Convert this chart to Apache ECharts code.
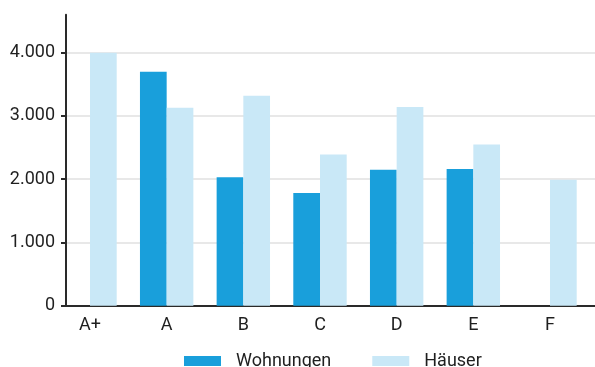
<!DOCTYPE html>
<html>
<head>
<meta charset="utf-8">
<script src="https://cdn.jsdelivr.net/npm/echarts@6/dist/echarts.min.js"></script>
<style>
  html, body { margin: 0; padding: 0; background: #fff; }
  #chart { width: 595px; height: 367px; }
</style>
</head>
<body>
<div id="chart"></div>
<script>
// Energieeffizienzklassen
const categories = ['A+', 'A', 'B', 'C', 'D', 'E', 'F'];
// Werte je Klasse
const wohnungen = [null, 3700, 2030, 1780, 2150, 2160, null];
const haeuser = [4000, 3130, 3320, 2390, 3140, 2550, 1990];
// Achsenbeschriftung
const yTicks = [0, 1000, 2000, 3000, 4000];

const FONT = 'Roboto';
const TEXT = '#1f1f1f';
const AXIS = '#2a2a2a';

function fmt(v) {
  return String(v).replace(/\B(?=(\d{3})+(?!\d))/g, '.');
}

const chart = echarts.init(document.getElementById('chart'), null, { renderer: 'canvas' });

const yBase = { type: 'value', min: 0, max: 4600, interval: 1000 };

chart.setOption({
  animation: false,
  textStyle: { fontFamily: FONT },
  grid: [
    // frame: y axis, gridlines, baseline
    { left: 66, right: 0, top: 14.75, bottom: 61.3 },
    // bars and category labels
    { left: 51.67, right: 6.67, top: 14.75, bottom: 61.3 }
  ],
  legend: {
    data: ['Wohnungen', 'Häuser'],
    left: 179,
    top: 347,
    itemWidth: 37,
    itemHeight: 10,
    itemGap: 41,
    icon: 'rect',
    textStyle: { fontFamily: FONT, fontSize: 18, color: TEXT, padding: [0, 0, 0, 10] }
  },
  xAxis: [
    {
      gridIndex: 0,
      type: 'category',
      data: categories,
      axisLine: { show: true, lineStyle: { color: AXIS, width: 2 } },
      axisTick: { show: false },
      axisLabel: { show: false },
      splitLine: { show: false }
    },
    {
      gridIndex: 1,
      type: 'category',
      data: categories,
      axisLine: { show: false },
      axisTick: { show: false },
      axisLabel: { fontFamily: FONT, fontSize: 18, color: TEXT, margin: 11 },
      splitLine: { show: false }
    }
  ],
  yAxis: [
    Object.assign({}, yBase, {
      gridIndex: 0,
      axisLine: { show: true, lineStyle: { color: AXIS, width: 2 } },
      axisTick: { show: true, length: 5, lineStyle: { color: AXIS, width: 2 }, customValues: yTicks },
      axisLabel: {
        fontFamily: FONT, fontSize: 18, color: TEXT, margin: 11,
        customValues: yTicks,
        formatter: fmt
      },
      splitLine: { show: true, lineStyle: { color: '#e0e0e0', width: 1.5 } }
    }),
    Object.assign({}, yBase, {
      gridIndex: 1,
      show: false,
      splitLine: { show: false }
    })
  ],
  series: [
    {
      name: 'Wohnungen',
      type: 'bar',
      xAxisIndex: 1,
      yAxisIndex: 1,
      data: wohnungen,
      barWidth: 26.7,
      barGap: '0%',
      itemStyle: { color: '#199fdb' }
    },
    {
      name: 'Häuser',
      type: 'bar',
      xAxisIndex: 1,
      yAxisIndex: 1,
      data: haeuser,
      barWidth: 26.7,
      barGap: '0%',
      itemStyle: { color: '#c9e8f7' }
    }
  ]
});
</script>
</body>
</html>
